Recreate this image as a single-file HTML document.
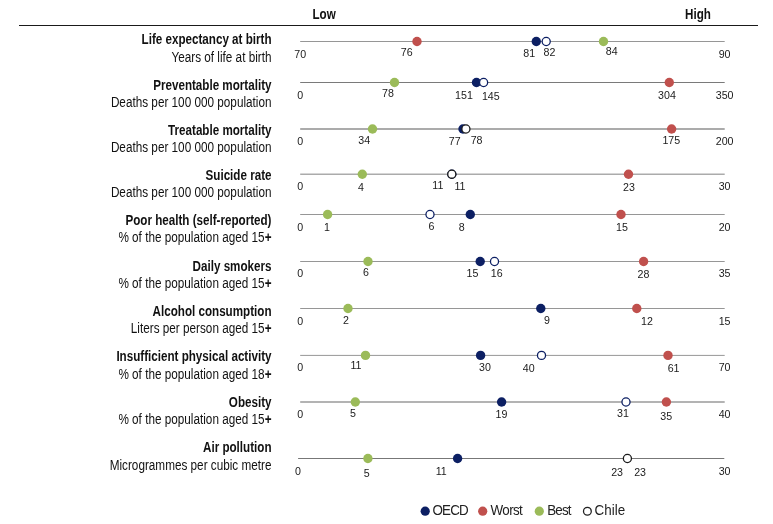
<!DOCTYPE html>
<html lang="en"><head><meta charset="utf-8"><title>Risk factors dashboard</title>
<style>
html,body{margin:0;padding:0;background:#fff}
svg{display:block}
text{font-family:"Liberation Sans",Arial,sans-serif;fill:#111}
.t{font-weight:bold;font-size:13.3px}
.s{font-size:13.3px}
.n{font-size:10.67px;letter-spacing:0;text-anchor:middle;fill:#1a1a1a}
.h{font-weight:bold;font-size:13.3px}
.lg{font-size:13.4px;letter-spacing:-0.8px;fill:#222}
</style></head><body>
<svg width="773" height="524" viewBox="0 0 773 524">
<rect width="773" height="524" fill="#fff"/>
<line x1="19" y1="25.5" x2="758" y2="25.5" stroke="#1a1a1a" stroke-width="1.2"/>
<text class="h" transform="translate(312.5,18.6) scale(0.876,1.04)">Low</text>
<text class="h" transform="translate(685.1,18.6) scale(0.876,1.04)">High</text>
<g>
<text class="t" text-anchor="end" transform="translate(271.5,44.0) scale(0.876,1.04)">Life expectancy at birth</text>
<text class="s" text-anchor="end" transform="translate(271.5,62.0) scale(0.883,1.04)">Years of life at birth</text>
<line x1="300.2" y1="41.5" x2="724.7" y2="41.5" stroke="#969696" stroke-width="1"/>
<circle cx="417" cy="41.5" r="4.7" fill="#c0504d"/>
<circle cx="536.3" cy="41.5" r="4.7" fill="#0c1f63"/>
<circle cx="546.2" cy="41.5" r="4.05" fill="#fff" stroke="#0c1f63" stroke-width="1.3"/>
<circle cx="603.5" cy="41.5" r="4.7" fill="#9bbb59"/>
<text class="n" transform="translate(300.2,57.7) scale(1,1.04)">70</text>
<text class="n" transform="translate(406.7,55.6) scale(1,1.04)">76</text>
<text class="n" transform="translate(529.3,56.9) scale(1,1.04)">81</text>
<text class="n" transform="translate(549.5,55.9) scale(1,1.04)">82</text>
<text class="n" transform="translate(611.7,54.9) scale(1,1.04)">84</text>
<text class="n" transform="translate(724.6,57.7) scale(1,1.04)">90</text>
</g>
<g>
<text class="t" text-anchor="end" transform="translate(271.5,90.0) scale(0.876,1.04)">Preventable mortality</text>
<text class="s" text-anchor="end" transform="translate(271.5,107.0) scale(0.883,1.04)">Deaths per 100 000 population</text>
<line x1="300.2" y1="82.5" x2="724.7" y2="82.5" stroke="#7a7a7a" stroke-width="1"/>
<circle cx="394.5" cy="82.5" r="4.7" fill="#9bbb59"/>
<circle cx="669.3" cy="82.5" r="4.7" fill="#c0504d"/>
<circle cx="476.5" cy="82.5" r="4.7" fill="#0c1f63"/>
<circle cx="483.6" cy="82.5" r="4.05" fill="#fff" stroke="#0c1f63" stroke-width="1.3"/>
<text class="n" transform="translate(300.2,98.5) scale(1,1.04)">0</text>
<text class="n" transform="translate(388,97) scale(1,1.04)">78</text>
<text class="n" transform="translate(464,98.6) scale(1,1.04)">151</text>
<text class="n" transform="translate(490.8,100) scale(1,1.04)">145</text>
<text class="n" transform="translate(667,98.5) scale(1,1.04)">304</text>
<text class="n" transform="translate(724.6,98.5) scale(1,1.04)">350</text>
</g>
<g>
<text class="t" text-anchor="end" transform="translate(271.5,135.0) scale(0.876,1.04)">Treatable mortality</text>
<text class="s" text-anchor="end" transform="translate(271.5,152.0) scale(0.883,1.04)">Deaths per 100 000 population</text>
<line x1="300.2" y1="129.0" x2="724.7" y2="129.0" stroke="#ababab" stroke-width="1.8"/>
<circle cx="372.5" cy="129.0" r="4.7" fill="#9bbb59"/>
<circle cx="671.6" cy="129.0" r="4.7" fill="#c0504d"/>
<circle cx="463" cy="129.0" r="4.7" fill="#0c1f63"/>
<circle cx="465.9" cy="129.0" r="4.05" fill="#fff" stroke="#1a1a1a" stroke-width="1.3"/>
<text class="n" transform="translate(300.2,145.1) scale(1,1.04)">0</text>
<text class="n" transform="translate(364.3,143.9) scale(1,1.04)">34</text>
<text class="n" transform="translate(454.7,145.0) scale(1,1.04)">77</text>
<text class="n" transform="translate(476.6,143.9) scale(1,1.04)">78</text>
<text class="n" transform="translate(671.3,144) scale(1,1.04)">175</text>
<text class="n" transform="translate(724.6,145) scale(1,1.04)">200</text>
</g>
<g>
<text class="t" text-anchor="end" transform="translate(271.5,180.0) scale(0.876,1.04)">Suicide rate</text>
<text class="s" text-anchor="end" transform="translate(271.5,197.0) scale(0.883,1.04)">Deaths per 100 000 population</text>
<line x1="300.2" y1="174.2" x2="724.7" y2="174.2" stroke="#ababab" stroke-width="1.5"/>
<circle cx="362.3" cy="174.2" r="4.7" fill="#9bbb59"/>
<circle cx="628.5" cy="174.2" r="4.7" fill="#c0504d"/>
<circle cx="451.8" cy="174.2" r="4.7" fill="#0c1f63"/>
<circle cx="451.8" cy="174.2" r="4.05" fill="#fff" stroke="#1a1a1a" stroke-width="1.3"/>
<text class="n" transform="translate(300.2,190) scale(1,1.04)">0</text>
<text class="n" transform="translate(361,190.5) scale(1,1.04)">4</text>
<text class="n" transform="translate(437.9,189.1) scale(1,1.04)">11</text>
<text class="n" transform="translate(460,189.9) scale(1,1.04)">11</text>
<text class="n" transform="translate(629,190.5) scale(1,1.04)">23</text>
<text class="n" transform="translate(724.6,190) scale(1,1.04)">30</text>
</g>
<g>
<text class="t" text-anchor="end" transform="translate(271.5,225.0) scale(0.876,1.04)">Poor health (self-reported)</text>
<text class="s" text-anchor="end" transform="translate(271.5,242.0) scale(0.883,1.04)">% of the population aged 15<tspan font-weight="bold">+</tspan></text>
<line x1="300.2" y1="214.5" x2="724.7" y2="214.5" stroke="#969696" stroke-width="1"/>
<circle cx="327.6" cy="214.5" r="4.7" fill="#9bbb59"/>
<circle cx="621" cy="214.5" r="4.7" fill="#c0504d"/>
<circle cx="470.3" cy="214.5" r="4.7" fill="#0c1f63"/>
<circle cx="430" cy="214.5" r="4.05" fill="#fff" stroke="#0c1f63" stroke-width="1.3"/>
<text class="n" transform="translate(300.2,231) scale(1,1.04)">0</text>
<text class="n" transform="translate(327,231) scale(1,1.04)">1</text>
<text class="n" transform="translate(431.4,230) scale(1,1.04)">6</text>
<text class="n" transform="translate(461.8,231) scale(1,1.04)">8</text>
<text class="n" transform="translate(622,231) scale(1,1.04)">15</text>
<text class="n" transform="translate(724.6,231) scale(1,1.04)">20</text>
</g>
<g>
<text class="t" text-anchor="end" transform="translate(271.5,271.0) scale(0.876,1.04)">Daily smokers</text>
<text class="s" text-anchor="end" transform="translate(271.5,288.0) scale(0.883,1.04)">% of the population aged 15<tspan font-weight="bold">+</tspan></text>
<line x1="300.2" y1="261.5" x2="724.7" y2="261.5" stroke="#969696" stroke-width="1"/>
<circle cx="368" cy="261.5" r="4.7" fill="#9bbb59"/>
<circle cx="643.6" cy="261.5" r="4.7" fill="#c0504d"/>
<circle cx="480.2" cy="261.5" r="4.7" fill="#0c1f63"/>
<circle cx="494.5" cy="261.5" r="4.05" fill="#fff" stroke="#0c1f63" stroke-width="1.3"/>
<text class="n" transform="translate(300.2,277) scale(1,1.04)">0</text>
<text class="n" transform="translate(365.9,276.4) scale(1,1.04)">6</text>
<text class="n" transform="translate(472.4,277) scale(1,1.04)">15</text>
<text class="n" transform="translate(496.8,277) scale(1,1.04)">16</text>
<text class="n" transform="translate(643.5,278.3) scale(1,1.04)">28</text>
<text class="n" transform="translate(724.6,277.2) scale(1,1.04)">35</text>
</g>
<g>
<text class="t" text-anchor="end" transform="translate(271.5,316.0) scale(0.876,1.04)">Alcohol consumption</text>
<text class="s" text-anchor="end" transform="translate(271.5,333.0) scale(0.883,1.04)">Liters per person aged 15<tspan font-weight="bold">+</tspan></text>
<line x1="300.2" y1="308.5" x2="724.7" y2="308.5" stroke="#969696" stroke-width="1"/>
<circle cx="348" cy="308.5" r="4.7" fill="#9bbb59"/>
<circle cx="636.8" cy="308.5" r="4.7" fill="#c0504d"/>
<circle cx="540.8" cy="308.5" r="4.7" fill="#0c1f63"/>
<text class="n" transform="translate(300.2,324.7) scale(1,1.04)">0</text>
<text class="n" transform="translate(346,323.7) scale(1,1.04)">2</text>
<text class="n" transform="translate(547,324.2) scale(1,1.04)">9</text>
<text class="n" transform="translate(647,325) scale(1,1.04)">12</text>
<text class="n" transform="translate(724.6,324.5) scale(1,1.04)">15</text>
</g>
<g>
<text class="t" text-anchor="end" transform="translate(271.5,361.0) scale(0.876,1.04)">Insufficient physical activity</text>
<text class="s" text-anchor="end" transform="translate(271.5,379.0) scale(0.883,1.04)">% of the population aged 18<tspan font-weight="bold">+</tspan></text>
<line x1="300.2" y1="355.4" x2="724.7" y2="355.4" stroke="#969696" stroke-width="1"/>
<circle cx="365.5" cy="355.4" r="4.7" fill="#9bbb59"/>
<circle cx="668" cy="355.4" r="4.7" fill="#c0504d"/>
<circle cx="480.6" cy="355.4" r="4.7" fill="#0c1f63"/>
<circle cx="541.5" cy="355.4" r="4.05" fill="#fff" stroke="#0c1f63" stroke-width="1.3"/>
<text class="n" transform="translate(300.2,371.2) scale(1,1.04)">0</text>
<text class="n" transform="translate(356,369.4) scale(1,1.04)">11</text>
<text class="n" transform="translate(485,370.6) scale(1,1.04)">30</text>
<text class="n" transform="translate(528.8,371.5) scale(1,1.04)">40</text>
<text class="n" transform="translate(673.6,371.8) scale(1,1.04)">61</text>
<text class="n" transform="translate(724.6,371.2) scale(1,1.04)">70</text>
</g>
<g>
<text class="t" text-anchor="end" transform="translate(271.5,407.0) scale(0.876,1.04)">Obesity</text>
<text class="s" text-anchor="end" transform="translate(271.5,424.0) scale(0.883,1.04)">% of the population aged 15<tspan font-weight="bold">+</tspan></text>
<line x1="300.2" y1="402" x2="724.7" y2="402" stroke="#9a9a9a" stroke-width="1.3"/>
<circle cx="355.3" cy="402" r="4.7" fill="#9bbb59"/>
<circle cx="666.4" cy="402" r="4.7" fill="#c0504d"/>
<circle cx="501.6" cy="402" r="4.7" fill="#0c1f63"/>
<circle cx="626" cy="402" r="4.05" fill="#fff" stroke="#0c1f63" stroke-width="1.3"/>
<text class="n" transform="translate(300.2,418.2) scale(1,1.04)">0</text>
<text class="n" transform="translate(353,417) scale(1,1.04)">5</text>
<text class="n" transform="translate(501.4,417.6) scale(1,1.04)">19</text>
<text class="n" transform="translate(623,416.7) scale(1,1.04)">31</text>
<text class="n" transform="translate(666.3,419.7) scale(1,1.04)">35</text>
<text class="n" transform="translate(724.6,418.2) scale(1,1.04)">40</text>
</g>
<g>
<text class="t" text-anchor="end" transform="translate(271.5,452.0) scale(0.876,1.04)">Air pollution</text>
<text class="s" text-anchor="end" transform="translate(271.5,470.0) scale(0.883,1.04)">Microgrammes per cubic metre</text>
<line x1="298.1" y1="458.5" x2="724.3" y2="458.5" stroke="#777777" stroke-width="1"/>
<circle cx="367.9" cy="458.5" r="4.7" fill="#9bbb59"/>
<circle cx="457.6" cy="458.5" r="4.7" fill="#0c1f63"/>
<circle cx="627.4" cy="458.5" r="4.05" fill="#fff" stroke="#1a1a1a" stroke-width="1.3"/>
<text class="n" transform="translate(298,474.6) scale(1,1.04)">0</text>
<text class="n" transform="translate(366.6,477) scale(1,1.04)">5</text>
<text class="n" transform="translate(441.2,474.6) scale(1,1.04)">11</text>
<text class="n" transform="translate(617.1,475.5) scale(1,1.04)">23</text>
<text class="n" transform="translate(640.1,475.5) scale(1,1.04)">23</text>
<text class="n" transform="translate(724.6,474.6) scale(1,1.04)">30</text>
</g>
<circle cx="425.2" cy="511.2" r="4.6" fill="#0c1f63"/><text class="lg" transform="translate(432.4,515.2) scale(1,1.04)">OECD</text>
<circle cx="482.7" cy="511.2" r="4.6" fill="#c0504d"/><text class="lg" transform="translate(490.5,515.2) scale(1,1.04)" style="letter-spacing:-0.6px">Worst</text>
<circle cx="539.3" cy="511.2" r="4.6" fill="#9bbb59"/><text class="lg" transform="translate(547.2,515.2) scale(1,1.04)">Best</text>
<circle cx="587.4" cy="511.2" r="3.9" fill="#fff" stroke="#222" stroke-width="1.3"/><text class="lg" transform="translate(594.6,515.2) scale(1,1.04)" style="letter-spacing:0px">Chile</text>
</svg>
</body></html>
